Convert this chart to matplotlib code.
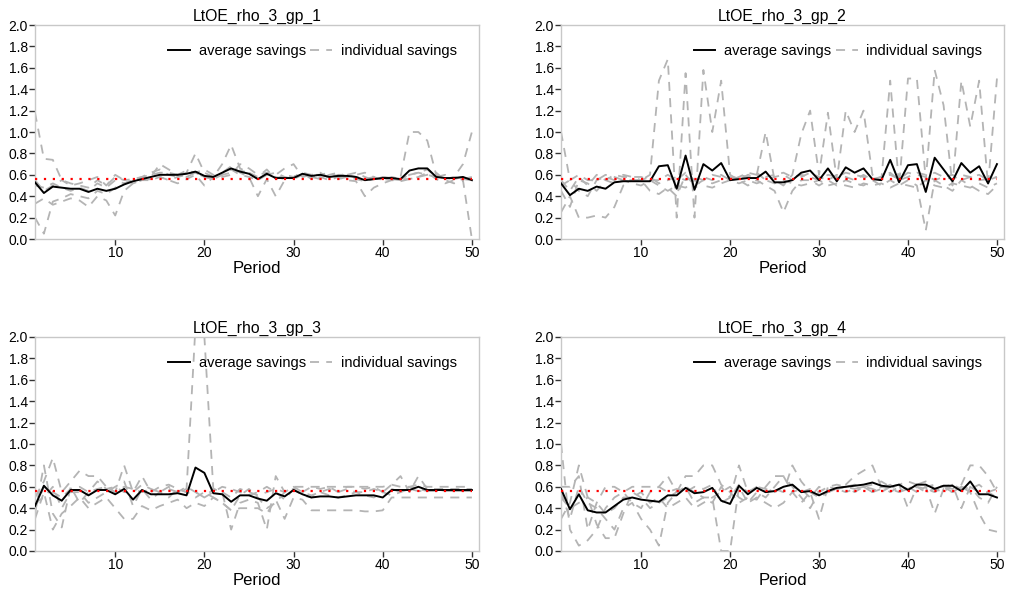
import numpy as np
import matplotlib
matplotlib.use("Agg")
import matplotlib.pyplot as plt

plt.rcParams['font.family'] = ['Liberation Sans', 'DejaVu Sans']

periods = np.arange(1, 51)
titles = ["LtOE_rho_3_gp_1", "LtOE_rho_3_gp_2", "LtOE_rho_3_gp_3", "LtOE_rho_3_gp_4"]
target = 0.56

# group 1
avg_1 = [0.53, 0.43, 0.49, 0.48, 0.47, 0.47, 0.44, 0.47, 0.45, 0.47, 0.51, 0.54, 0.56, 0.58, 0.60, 0.60, 0.60, 0.61, 0.63, 0.59,
         0.58, 0.62, 0.66, 0.63, 0.61, 0.56, 0.61, 0.57, 0.57, 0.57, 0.61, 0.59, 0.60, 0.58, 0.59, 0.59, 0.58, 0.55, 0.56, 0.57,
         0.57, 0.56, 0.64, 0.66, 0.66, 0.58, 0.57, 0.57, 0.58, 0.55]
ind_1 = [
    [1.18, 0.75, 0.74, 0.55, 0.52, 0.50, 0.48, 0.55, 0.50, 0.58, 0.55, 0.56, 0.58, 0.62, 0.65, 0.60, 0.58, 0.62, 0.80, 0.62,
     0.58, 0.70, 0.88, 0.66, 0.62, 0.58, 0.65, 0.56, 0.60, 0.58, 0.62, 0.60, 0.62, 0.57, 0.60, 0.60, 0.58, 0.56, 0.58, 0.58,
     0.57, 0.56, 0.60, 0.62, 0.60, 0.58, 0.56, 0.58, 0.70, 1.00],
    [0.20, 0.05, 0.35, 0.38, 0.42, 0.40, 0.38, 0.45, 0.42, 0.48, 0.52, 0.55, 0.58, 0.60, 0.62, 0.62, 0.60, 0.58, 0.62, 0.58,
     0.56, 0.60, 0.65, 0.60, 0.58, 0.55, 0.60, 0.58, 0.56, 0.58, 0.60, 0.58, 0.60, 0.58, 0.56, 0.58, 0.56, 0.54, 0.56, 0.56,
     0.55, 0.58, 1.00, 1.00, 0.92, 0.60, 0.55, 0.52, 0.55, 0.00],
    [0.33, 0.38, 0.32, 0.35, 0.38, 0.36, 0.30, 0.40, 0.36, 0.22, 0.45, 0.52, 0.55, 0.55, 0.58, 0.55, 0.52, 0.56, 0.60, 0.50,
     0.58, 0.62, 0.68, 0.62, 0.58, 0.40, 0.56, 0.40, 0.55, 0.58, 0.62, 0.56, 0.58, 0.55, 0.58, 0.55, 0.54, 0.40, 0.48, 0.52,
     0.55, 0.54, 0.56, 0.58, 0.62, 0.56, 0.52, 0.55, 0.56, 0.55],
    [0.50, 0.48, 0.52, 0.48, 0.45, 0.48, 0.45, 0.52, 0.48, 0.55, 0.52, 0.55, 0.56, 0.58, 0.70, 0.65, 0.60, 0.64, 0.62, 0.65,
     0.60, 0.58, 0.60, 0.70, 0.66, 0.60, 0.62, 0.60, 0.66, 0.70, 0.58, 0.60, 0.60, 0.62, 0.58, 0.60, 0.62, 0.58, 0.55, 0.58,
     0.56, 0.55, 0.60, 0.62, 0.65, 0.58, 0.60, 0.56, 0.58, 0.56],
    [0.55, 0.45, 0.50, 0.55, 0.50, 0.52, 0.55, 0.58, 0.50, 0.60, 0.55, 0.52, 0.55, 0.56, 0.58, 0.55, 0.58, 0.60, 0.62, 0.58,
     0.56, 0.60, 0.62, 0.64, 0.62, 0.56, 0.60, 0.62, 0.58, 0.56, 0.60, 0.58, 0.56, 0.60, 0.62, 0.58, 0.60, 0.62, 0.58, 0.55,
     0.58, 0.56, 0.56, 0.58, 0.60, 0.62, 0.55, 0.58, 0.56, 0.58],
]

# group 2
avg_2 = [0.52, 0.41, 0.47, 0.45, 0.49, 0.47, 0.53, 0.54, 0.54, 0.54, 0.54, 0.68, 0.69, 0.47, 0.78, 0.46, 0.70, 0.64, 0.71, 0.55,
         0.56, 0.57, 0.57, 0.63, 0.53, 0.53, 0.55, 0.62, 0.64, 0.55, 0.66, 0.54, 0.67, 0.62, 0.66, 0.56, 0.55, 0.74, 0.53, 0.69,
         0.70, 0.44, 0.76, 0.65, 0.54, 0.71, 0.62, 0.68, 0.52, 0.70]
ind_2 = [
    [1.00, 0.55, 0.60, 0.55, 0.55, 0.60, 0.58, 0.55, 0.55, 0.55, 0.60, 1.48, 1.68, 0.20, 1.55, 0.20, 1.58, 1.00, 1.48, 0.60,
     0.55, 0.60, 0.60, 1.00, 0.55, 0.50, 0.60, 0.98, 1.20, 0.60, 1.18, 0.55, 1.20, 1.00, 1.20, 0.60, 0.55, 1.48, 0.50, 1.50,
     1.50, 0.55, 1.58, 1.25, 0.50, 1.48, 1.05, 1.48, 0.50, 1.50],
    [0.25, 0.40, 0.20, 0.20, 0.22, 0.20, 0.30, 0.50, 0.55, 0.55, 0.45, 0.42, 0.48, 0.40, 0.60, 0.50, 0.55, 0.52, 0.55, 0.58,
     0.55, 0.50, 0.55, 0.50, 0.45, 0.25, 0.45, 0.55, 0.55, 0.50, 0.55, 0.50, 0.55, 0.52, 0.50, 0.55, 0.50, 0.55, 0.50, 0.55,
     0.50, 0.08, 0.55, 0.50, 0.45, 0.55, 0.50, 0.45, 0.42, 0.50],
    [0.55, 0.45, 0.58, 0.50, 0.60, 0.55, 0.60, 0.58, 0.58, 0.58, 0.55, 0.55, 0.60, 0.55, 0.62, 0.55, 0.58, 0.55, 0.60, 0.55,
     0.58, 0.62, 0.60, 0.58, 0.60, 0.62, 0.58, 0.60, 0.58, 0.55, 0.60, 0.58, 0.62, 0.60, 0.58, 0.56, 0.58, 0.60, 0.56, 0.62,
     0.60, 0.58, 0.62, 0.58, 0.56, 0.60, 0.58, 0.55, 0.56, 0.58],
    [0.45, 0.30, 0.55, 0.52, 0.45, 0.55, 0.52, 0.55, 0.52, 0.50, 0.55, 0.50, 0.45, 0.50, 0.48, 0.55, 0.50, 0.48, 0.52, 0.55,
     0.52, 0.55, 0.52, 0.55, 0.52, 0.55, 0.52, 0.50, 0.52, 0.55, 0.50, 0.52, 0.50, 0.48, 0.52, 0.50, 0.52, 0.48, 0.52, 0.50,
     0.48, 0.55, 0.50, 0.48, 0.52, 0.50, 0.48, 0.52, 0.48, 0.52],
    [0.50, 0.55, 0.45, 0.40, 0.55, 0.58, 0.55, 0.60, 0.58, 0.55, 0.58, 0.52, 0.55, 0.58, 0.55, 0.58, 0.55, 0.60, 0.58, 0.55,
     0.60, 0.58, 0.62, 0.55, 0.58, 0.60, 0.55, 0.58, 0.62, 0.58, 0.55, 0.60, 0.58, 0.55, 0.60, 0.55, 0.58, 0.62, 0.55, 0.58,
     0.62, 0.60, 0.55, 0.58, 0.60, 0.55, 0.58, 0.60, 0.55, 0.58],
]

# group 3
avg_3 = [0.42, 0.61, 0.52, 0.47, 0.57, 0.57, 0.52, 0.57, 0.57, 0.53, 0.58, 0.48, 0.57, 0.53, 0.53, 0.53, 0.54, 0.52, 0.78, 0.73,
         0.54, 0.53, 0.46, 0.52, 0.52, 0.49, 0.47, 0.54, 0.51, 0.57, 0.53, 0.50, 0.51, 0.51, 0.50, 0.51, 0.52, 0.52, 0.52, 0.50,
         0.57, 0.57, 0.57, 0.60, 0.57, 0.57, 0.57, 0.57, 0.57, 0.57]
ind_3 = [
    [0.40, 0.60, 0.55, 0.50, 0.58, 0.60, 0.55, 0.58, 0.60, 0.55, 0.60, 0.58, 0.55, 0.58, 0.55, 0.58, 0.55, 0.58, 2.10, 2.00,
     0.58, 0.55, 0.50, 0.58, 0.55, 0.52, 0.55, 0.58, 0.55, 0.60, 0.60, 0.60, 0.60, 0.60, 0.60, 0.60, 0.60, 0.60, 0.60, 0.60,
     0.62, 0.60, 0.60, 0.62, 0.60, 0.60, 0.60, 0.60, 0.60, 0.60],
    [0.30, 0.55, 0.20, 0.35, 0.42, 0.50, 0.40, 0.45, 0.50, 0.40, 0.30, 0.30, 0.42, 0.38, 0.42, 0.45, 0.48, 0.40, 0.45, 0.42,
     0.50, 0.45, 0.38, 0.40, 0.40, 0.40, 0.35, 0.48, 0.30, 0.50, 0.48, 0.38, 0.38, 0.38, 0.38, 0.38, 0.38, 0.37, 0.37, 0.38,
     0.50, 0.50, 0.50, 0.50, 0.50, 0.50, 0.50, 0.50, 0.50, 0.50],
    [0.50, 0.65, 0.87, 0.55, 0.65, 0.75, 0.70, 0.70, 0.60, 0.55, 0.80, 0.55, 0.70, 0.55, 0.60, 0.62, 0.58, 0.55, 0.55, 0.50,
     0.58, 0.55, 0.20, 0.45, 0.48, 0.45, 0.20, 0.70, 0.55, 0.60, 0.55, 0.52, 0.55, 0.58, 0.55, 0.58, 0.55, 0.55, 0.58, 0.55,
     0.62, 0.70, 0.55, 0.70, 0.58, 0.58, 0.58, 0.58, 0.58, 0.58],
    [0.35, 0.80, 0.35, 0.22, 0.60, 0.45, 0.55, 0.65, 0.58, 0.60, 0.55, 0.55, 0.62, 0.58, 0.55, 0.60, 0.55, 0.60, 0.55, 0.50,
     0.55, 0.60, 0.58, 0.55, 0.52, 0.55, 0.60, 0.55, 0.48, 0.58, 0.55, 0.60, 0.58, 0.60, 0.55, 0.60, 0.60, 0.58, 0.60, 0.55,
     0.58, 0.55, 0.60, 0.58, 0.56, 0.58, 0.56, 0.56, 0.56, 0.56],
    [0.45, 0.50, 0.60, 0.40, 0.55, 0.55, 0.45, 0.50, 0.55, 0.60, 0.65, 0.42, 0.58, 0.48, 0.55, 0.50, 0.58, 0.55, 0.50, 0.55,
     0.50, 0.45, 0.38, 0.52, 0.58, 0.50, 0.40, 0.45, 0.55, 0.58, 0.52, 0.50, 0.55, 0.52, 0.50, 0.52, 0.55, 0.52, 0.50, 0.55,
     0.52, 0.55, 0.58, 0.56, 0.56, 0.56, 0.56, 0.56, 0.56, 0.56],
]

# group 4
avg_4 = [0.58, 0.39, 0.53, 0.38, 0.36, 0.36, 0.42, 0.48, 0.50, 0.48, 0.47, 0.46, 0.52, 0.52, 0.59, 0.54, 0.55, 0.59, 0.47, 0.44,
         0.61, 0.53, 0.59, 0.55, 0.56, 0.60, 0.62, 0.55, 0.56, 0.52, 0.56, 0.59, 0.60, 0.61, 0.62, 0.64, 0.61, 0.60, 0.62, 0.57,
         0.62, 0.62, 0.58, 0.61, 0.61, 0.56, 0.65, 0.53, 0.53, 0.50]
ind_4 = [
    [1.00, 0.20, 0.05, 0.10, 0.20, 0.40, 0.50, 0.55, 0.45, 0.40, 0.55, 0.60, 0.70, 0.55, 0.60, 0.45, 0.50, 0.45, 0.60, 0.50,
     0.80, 0.55, 0.60, 0.55, 0.58, 0.55, 0.80, 0.65, 0.55, 0.50, 0.55, 0.58, 0.60, 0.55, 0.60, 0.58, 0.55, 0.60, 0.62, 0.40,
     0.60, 0.58, 0.55, 0.60, 0.58, 0.62, 0.80, 0.80, 0.70, 0.55],
    [0.30, 0.45, 0.80, 0.50, 0.25, 0.12, 0.12, 0.35, 0.55, 0.50, 0.40, 0.45, 0.50, 0.55, 0.60, 0.55, 0.50, 0.50, 0.00, 0.00,
     0.60, 0.45, 0.55, 0.50, 0.60, 0.70, 0.55, 0.45, 0.55, 0.30, 0.60, 0.58, 0.60, 0.58, 0.60, 0.55, 0.60, 0.58, 0.55, 0.60,
     0.55, 0.60, 0.35, 0.58, 0.55, 0.60, 0.55, 0.35, 0.20, 0.18],
    [0.55, 0.30, 0.60, 0.45, 0.40, 0.30, 0.20, 0.40, 0.45, 0.30, 0.20, 0.05, 0.45, 0.55, 0.70, 0.70, 0.80, 0.80, 0.62, 0.55,
     0.45, 0.50, 0.48, 0.60, 0.70, 0.70, 0.60, 0.50, 0.40, 0.55, 0.60, 0.58, 0.62, 0.70, 0.75, 0.80, 0.60, 0.55, 0.60, 0.58,
     0.62, 0.65, 0.58, 0.55, 0.62, 0.40, 0.60, 0.50, 0.45, 0.60],
    [0.60, 0.60, 0.70, 0.20, 0.45, 0.60, 0.60, 0.55, 0.60, 0.60, 0.60, 0.60, 0.55, 0.58, 0.55, 0.60, 0.58, 0.62, 0.45, 0.50,
     0.62, 0.55, 0.60, 0.58, 0.55, 0.60, 0.62, 0.55, 0.58, 0.55, 0.60, 0.62, 0.60, 0.62, 0.60, 0.62, 0.65, 0.60, 0.62, 0.65,
     0.62, 0.60, 0.62, 0.60, 0.62, 0.58, 0.60, 0.55, 0.55, 0.50],
    [0.50, 0.40, 0.45, 0.50, 0.45, 0.35, 0.40, 0.50, 0.50, 0.55, 0.45, 0.50, 0.40, 0.45, 0.50, 0.40, 0.45, 0.50, 0.55, 0.60,
     0.50, 0.45, 0.50, 0.45, 0.40, 0.45, 0.55, 0.58, 0.50, 0.60, 0.55, 0.58, 0.55, 0.58, 0.60, 0.55, 0.58, 0.62, 0.55, 0.58,
     0.60, 0.55, 0.58, 0.60, 0.55, 0.60, 0.58, 0.62, 0.55, 0.58],
]

averages = [avg_1, avg_2, avg_3, avg_4]
individuals = [ind_1, ind_2, ind_3, ind_4]

fig = plt.figure(figsize=(10.14, 5.94), dpi=100)
positions = [
    [0.0345, 0.5976, 0.4379, 0.3603],
    [0.5533, 0.5976, 0.4369, 0.3603],
    [0.0345, 0.0724, 0.4379, 0.3603],
    [0.5533, 0.0724, 0.4369, 0.3603],
]

for k in range(4):
    ax = fig.add_axes(positions[k])
    for j, ind in enumerate(individuals[k]):
        ax.plot(periods, ind, color='#b4b4b4', linestyle=(0, (5, 4)), linewidth=1.3,
                label='individual savings' if j == 0 else None, zorder=2)
    ax.plot(periods, averages[k], color='black', linewidth=1.4, label='average savings', zorder=3)
    ax.hlines(target, 1, 50, colors='red', linestyles=(0, (1, 3)), linewidth=1.6, zorder=4)

    ax.set_xlim(1, 50.8)
    ax.set_ylim(0, 2.0)
    ax.set_xticks([10, 20, 30, 40, 50])
    ax.set_yticks(np.arange(0, 2.01, 0.2))
    ax.set_yticklabels([f"{v:.1f}" for v in np.arange(0, 2.01, 0.2)])
    ax.tick_params(direction='out', length=4, width=1, color='#333333', labelsize=10, pad=1)
    for s in ax.spines.values():
        s.set_color('#c8c8c8')
        s.set_linewidth(1)
    ax.set_title(titles[k], fontsize=11.3, pad=3)
    ax.set_xlabel("Period", fontsize=12, labelpad=1)

    h, l = ax.get_legend_handles_labels()
    order = [l.index('average savings'), l.index('individual savings')]
    ax.legend([h[i] for i in order], [l[i] for i in order], loc='center', bbox_to_anchor=(0.625, 0.88),
              ncol=2, frameon=False, fontsize=10.5, handlelength=1.5, handletextpad=0.6, columnspacing=0.3)

plt.savefig("out.png", dpi=100)
